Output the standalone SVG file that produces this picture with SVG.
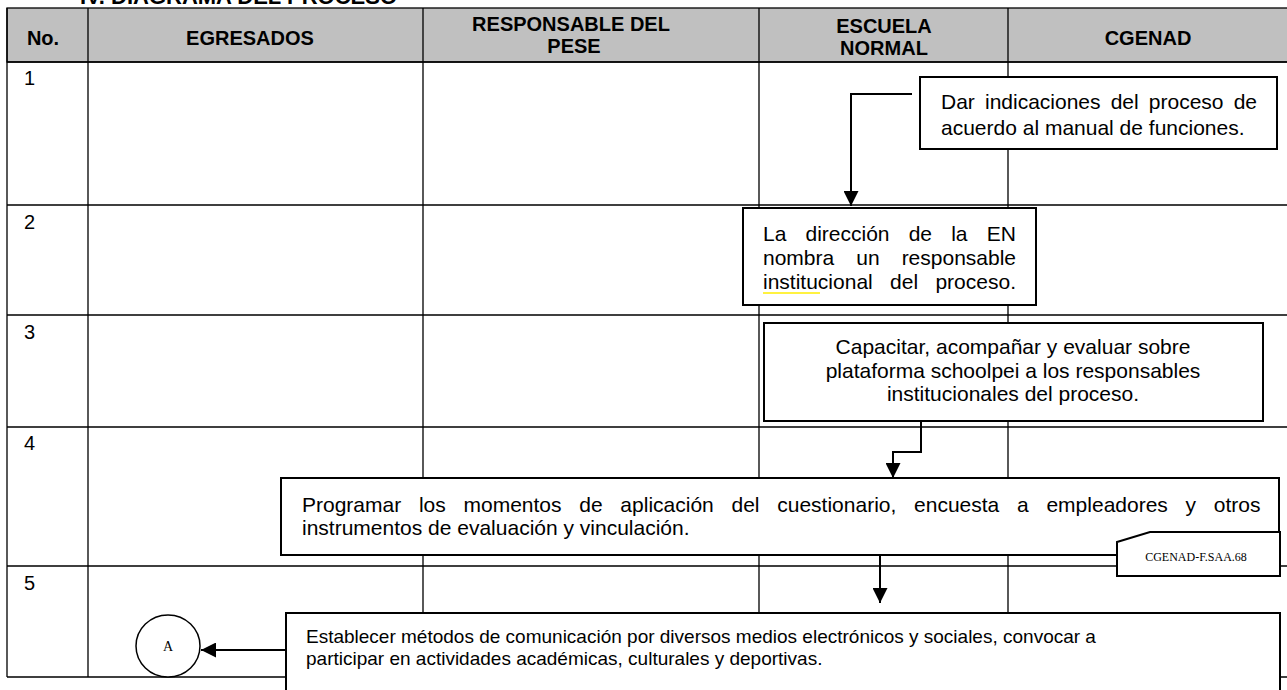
<svg xmlns="http://www.w3.org/2000/svg" width="1287" height="690" viewBox="0 0 1287 690">
<defs>
<marker id="arr" markerUnits="userSpaceOnUse" markerWidth="15" markerHeight="15" refX="15" refY="7.5" orient="auto">
<path d="M0,0 L15,7.5 L0,15 z" fill="#000"/>
</marker>
<style>
.grid{stroke:#000;stroke-width:1.3;fill:none}
.hd{font-family:"Liberation Sans",Arial,sans-serif;font-weight:bold;font-size:20px;fill:#000;text-anchor:middle}
.num{font-family:"Liberation Sans",Arial,sans-serif;font-size:20px;fill:#000}
.box{fill:#fff;stroke:#000;stroke-width:2}
.t21{font-family:"Liberation Sans",Arial,sans-serif;font-size:21px;fill:#000}
.t19{font-family:"Liberation Sans",Arial,sans-serif;font-size:19px;fill:#000}
.ser{font-family:"Liberation Serif","Times New Roman",serif;fill:#000}
.con{stroke:#000;stroke-width:2;fill:none}
</style>
</defs>
<rect width="1287" height="690" fill="#fff"/>
<text x="80" y="4" font-family="Liberation Sans, Arial, sans-serif" font-weight="bold" font-size="22">IV. DIAGRAMA DEL PROCESO</text>
<g id="table">
<rect x="7" y="8" width="1285" height="54" fill="#c0c0c0" stroke="#000" stroke-width="1.3"/>
<path class="grid" d="M7,62 H1287 M7,205 H1287 M7,315 H1287 M7,427 H1287 M7,566 H1287 M7,677 H1287 M7,8 V677 M88,8 V677 M423,8 V677 M759,8 V677 M1008,8 V677"/>
<text class="hd" x="43" y="45">No.</text>
<text class="hd" x="250" y="45">EGRESADOS</text>
<text class="hd" x="571" y="31">RESPONSABLE DEL</text>
<text class="hd" x="574" y="53">PESE</text>
<text class="hd" x="884" y="33">ESCUELA</text>
<text class="hd" x="884" y="55">NORMAL</text>
<text class="hd" x="1148" y="45">CGENAD</text>
<text class="num" x="24" y="85">1</text>
<text class="num" x="24" y="229">2</text>
<text class="num" x="24" y="339">3</text>
<text class="num" x="24" y="450">4</text>
<text class="num" x="24" y="590">5</text>
</g>
<g id="connectors">
<polyline class="con" points="912,94 851,94 851,206" marker-end="url(#arr)"/>
<polyline class="con" points="921,421 921,452 893,452 893,478" marker-end="url(#arr)"/>
<line class="con" x1="880" y1="555" x2="880" y2="603" marker-end="url(#arr)"/>
<line class="con" x1="286" y1="650" x2="201" y2="650" marker-end="url(#arr)"/>
</g>
<g id="n1">
<rect class="box" x="920" y="77" width="357" height="72"/>
<text class="t21" x="941" y="109" font-size="21.5" word-spacing="4.3">Dar indicaciones del proceso de</text>
<text class="t21" x="941" y="135" font-size="21.5">acuerdo al manual de funciones.</text>
</g>
<g id="n2">
<rect class="box" x="743" y="208" width="293" height="97"/>
<text class="t21" x="763" y="241" word-spacing="13.3">La dirección de la EN</text>
<text class="t21" x="763" y="265" word-spacing="16.2">nombra un responsable</text>
<text class="t21" x="763" y="289" word-spacing="11.5">institucional del proceso.</text>
<line x1="763" y1="293" x2="820" y2="293" stroke="#ffee00" stroke-width="1.5"/>
</g>
<g id="n3">
<rect class="box" x="764" y="323" width="499" height="98"/>
<text class="t21" x="1013" y="354" text-anchor="middle">Capacitar, acompañar y evaluar sobre</text>
<text class="t21" x="1013" y="378" text-anchor="middle">plataforma schoolpei a los responsables</text>
<text class="t21" x="1013" y="401" text-anchor="middle">institucionales del proceso.</text>
</g>
<g id="n4">
<rect class="box" x="281" y="478" width="998" height="77"/>
<text class="t21" x="302" y="512" word-spacing="11.9">Programar los momentos de aplicación del cuestionario, encuesta a empleadores y otros</text>
<text class="t21" x="302" y="535">instrumentos de evaluación y vinculación.</text>
</g>
<g id="tag">
<path class="box" d="M1117,542 L1150,532 L1280,532 L1280,576 L1117,576 Z"/>
<text class="ser" x="1196" y="561" font-size="12" text-anchor="middle">CGENAD-F.SAA.68</text>
</g>
<g id="n5">
<rect class="box" x="286" y="613" width="994" height="100"/>
<text class="t19" x="306" y="643">Establecer métodos de comunicación por diversos medios electrónicos y sociales, convocar a</text>
<text class="t19" x="306" y="665">participar en actividades académicas, culturales y deportivas.</text>
</g>
<g id="nA">
<ellipse cx="168" cy="646" rx="32" ry="31" fill="#fff" stroke="#000" stroke-width="1.5"/>
<text class="ser" x="168" y="651" font-size="14" text-anchor="middle">A</text>
</g>
</svg>
